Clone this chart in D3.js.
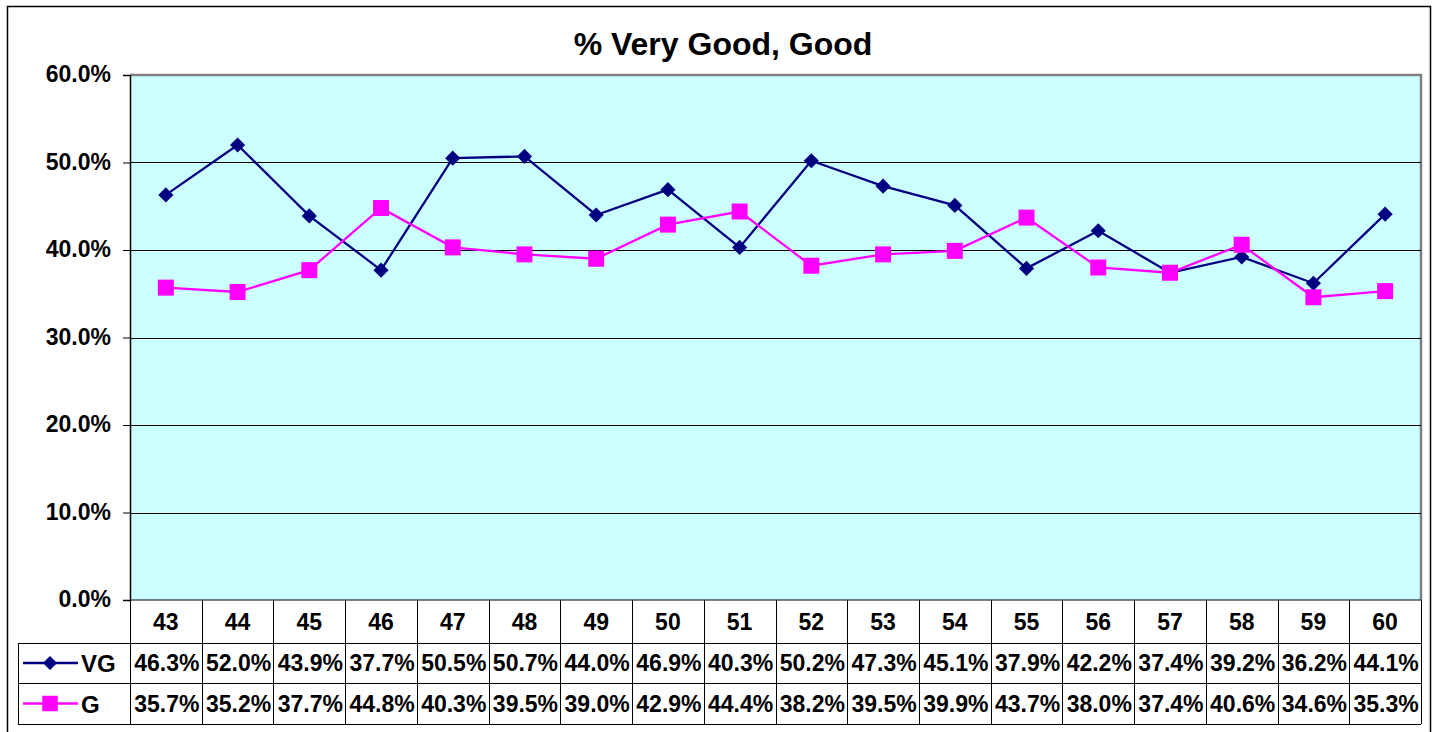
<!DOCTYPE html>
<meta charset="utf-8">
<script src="https://d3js.org/d3.v7.min.js"></script>
<style>
  body { margin: 0; background: #fff; }
  svg text { font-family: Arial, "Liberation Sans", sans-serif; font-weight: bold; fill: #000; }
</style>
<div id="chart"></div>
<script>
var categories = ["43","44","45","46","47","48","49","50","51","52","53","54","55","56","57","58","59","60"];
var vgValues = [46.3, 52.0, 43.9, 37.7, 50.5, 50.7, 44.0, 46.9, 40.3, 50.2, 47.3, 45.1, 37.9, 42.2, 37.4, 39.2, 36.2, 44.1];
var gValues  = [35.7, 35.2, 37.7, 44.8, 40.3, 39.5, 39.0, 42.9, 44.4, 38.2, 39.5, 39.9, 43.7, 38.0, 37.4, 40.6, 34.6, 35.3];
var yTicks = [0, 10, 20, 30, 40, 50, 60];

var series = [
  { name: "VG", values: vgValues, color: "#000080", marker: "diamond" },
  { name: "G",  values: gValues,  color: "#FF00FF", marker: "square" }
];

var W = 1434, H = 732;
var plotL = 130, plotR = 1421, plotT = 75, plotB = 600;
var rowH = [43, 40, 41];
var fs = "23px";

var svg = d3.select("#chart").append("svg")
    .attr("width", W).attr("height", H);

// outer frame
svg.append("rect").attr("x", 7.5).attr("y", 6.5).attr("width", 1423).attr("height", 740)
    .attr("fill", "#fff").attr("stroke", "#000").attr("stroke-width", 1.5);

svg.append("text").attr("x", 723).attr("y", 55).attr("text-anchor", "middle")
    .style("font-size", "32px").text("% Very Good, Good");

var x = d3.scaleBand().domain(categories).range([plotL, plotR]);
var y = d3.scaleLinear().domain([0, 60]).range([plotB, plotT]);

// plot area
svg.append("rect").attr("x", plotL).attr("y", plotT).attr("width", plotR - plotL).attr("height", plotB - plotT)
    .attr("fill", "#CCFFFF");
svg.append("path").attr("d", "M" + plotL + "," + plotT + "H" + plotR + "V" + plotB)
    .attr("fill", "none").attr("stroke", "#808080").attr("stroke-width", 2.5);

// gridlines
svg.append("g").selectAll("line").data(yTicks.filter(function(d) { return d > 0 && d < 60; }))
  .enter().append("line")
    .attr("x1", plotL).attr("x2", plotR)
    .attr("y1", function(d) { return Math.round(y(d)) + 0.5; })
    .attr("y2", function(d) { return Math.round(y(d)) + 0.5; })
    .attr("stroke", "#000").attr("stroke-width", 1);

// y axis
var yAxis = svg.append("g").attr("transform", "translate(" + plotL + ",0)")
    .call(d3.axisLeft(y).tickValues(yTicks).tickSize(7).tickPadding(12)
      .tickFormat(function(d) { return d.toFixed(1) + "%"; }));
yAxis.select(".domain").attr("stroke", "#000").attr("stroke-width", 1.5);
yAxis.selectAll(".tick line").attr("stroke", "#000");
yAxis.selectAll("text").style("font-size", fs).style("font-family", "Arial, 'Liberation Sans', sans-serif")
    .style("font-weight", "bold").attr("fill", "#000").attr("dy", "0.3em");

// lines and markers
var line = d3.line()
    .x(function(d, i) { return x(categories[i]) + x.bandwidth() / 2; })
    .y(function(d) { return y(d); });

series.forEach(function(s) {
  svg.append("path").datum(s.values).attr("d", line)
      .attr("fill", "none").attr("stroke", s.color).attr("stroke-width", 2.3);
  var sym = s.marker === "diamond"
    ? d3.symbol().type(d3.symbolSquare).size(115)
    : d3.symbol().type(d3.symbolSquare).size(256);
  svg.append("g").selectAll("path").data(s.values).enter().append("path")
      .attr("d", sym)
      .attr("transform", function(d, i) {
        var t = "translate(" + (x(categories[i]) + x.bandwidth() / 2) + "," + y(d) + ")";
        return s.marker === "diamond" ? t + " rotate(45)" : t;
      })
      .attr("fill", s.color);
});

// data table
var tbl = svg.append("g");
var r0 = plotB, r1 = plotB + rowH[0], r2 = r1 + rowH[1], r3 = r2 + rowH[2];
var legendLeft = 18;

tbl.append("line").attr("x1", plotL).attr("x2", plotR).attr("y1", r0).attr("y2", r0);
[r1, r2, r3].forEach(function(r) {
  tbl.append("line").attr("x1", legendLeft).attr("x2", plotR).attr("y1", r + 0.5).attr("y2", r + 0.5);
});
tbl.append("line").attr("x1", legendLeft + 0.5).attr("x2", legendLeft + 0.5).attr("y1", r1).attr("y2", r3);
categories.forEach(function(c) {
  var xx = Math.round(x(c)) + 0.5;
  tbl.append("line").attr("x1", xx).attr("x2", xx).attr("y1", r0).attr("y2", r3);
});
tbl.append("line").attr("x1", plotR + 0.5).attr("x2", plotR + 0.5).attr("y1", r0).attr("y2", r3);
tbl.selectAll("line").attr("stroke", "#000").attr("stroke-width", 1);

tbl.selectAll("text.cat").data(categories).enter().append("text")
    .attr("x", function(d) { return x(d) + x.bandwidth() / 2; })
    .attr("y", r0 + rowH[0] / 2 + 8)
    .attr("text-anchor", "middle").style("font-size", fs)
    .text(function(d) { return d; });

series.forEach(function(s, k) {
  var rt = k === 0 ? r1 : r2;
  var cy = rt + rowH[k + 1] / 2;
  tbl.selectAll("text.v" + k).data(s.values).enter().append("text")
      .attr("x", function(d, i) { return x(categories[i]) + x.bandwidth() / 2 + 1; })
      .attr("y", cy + 8)
      .attr("text-anchor", "middle").style("font-size", fs)
      .text(function(d) { return d.toFixed(1) + "%"; });
  // legend key
  tbl.append("line").attr("x1", 23).attr("x2", 78).attr("y1", cy).attr("y2", cy)
      .attr("stroke", s.color).attr("stroke-width", 2.3);
  var sym = s.marker === "diamond"
    ? d3.symbol().type(d3.symbolSquare).size(100)
    : d3.symbol().type(d3.symbolSquare).size(240);
  tbl.append("path").attr("d", sym)
      .attr("transform", "translate(50," + cy + ")" + (s.marker === "diamond" ? " rotate(45)" : ""))
      .attr("fill", s.color);
  tbl.append("text").attr("x", 81).attr("y", cy + 9).style("font-size", "24px").text(s.name);
});
</script>
